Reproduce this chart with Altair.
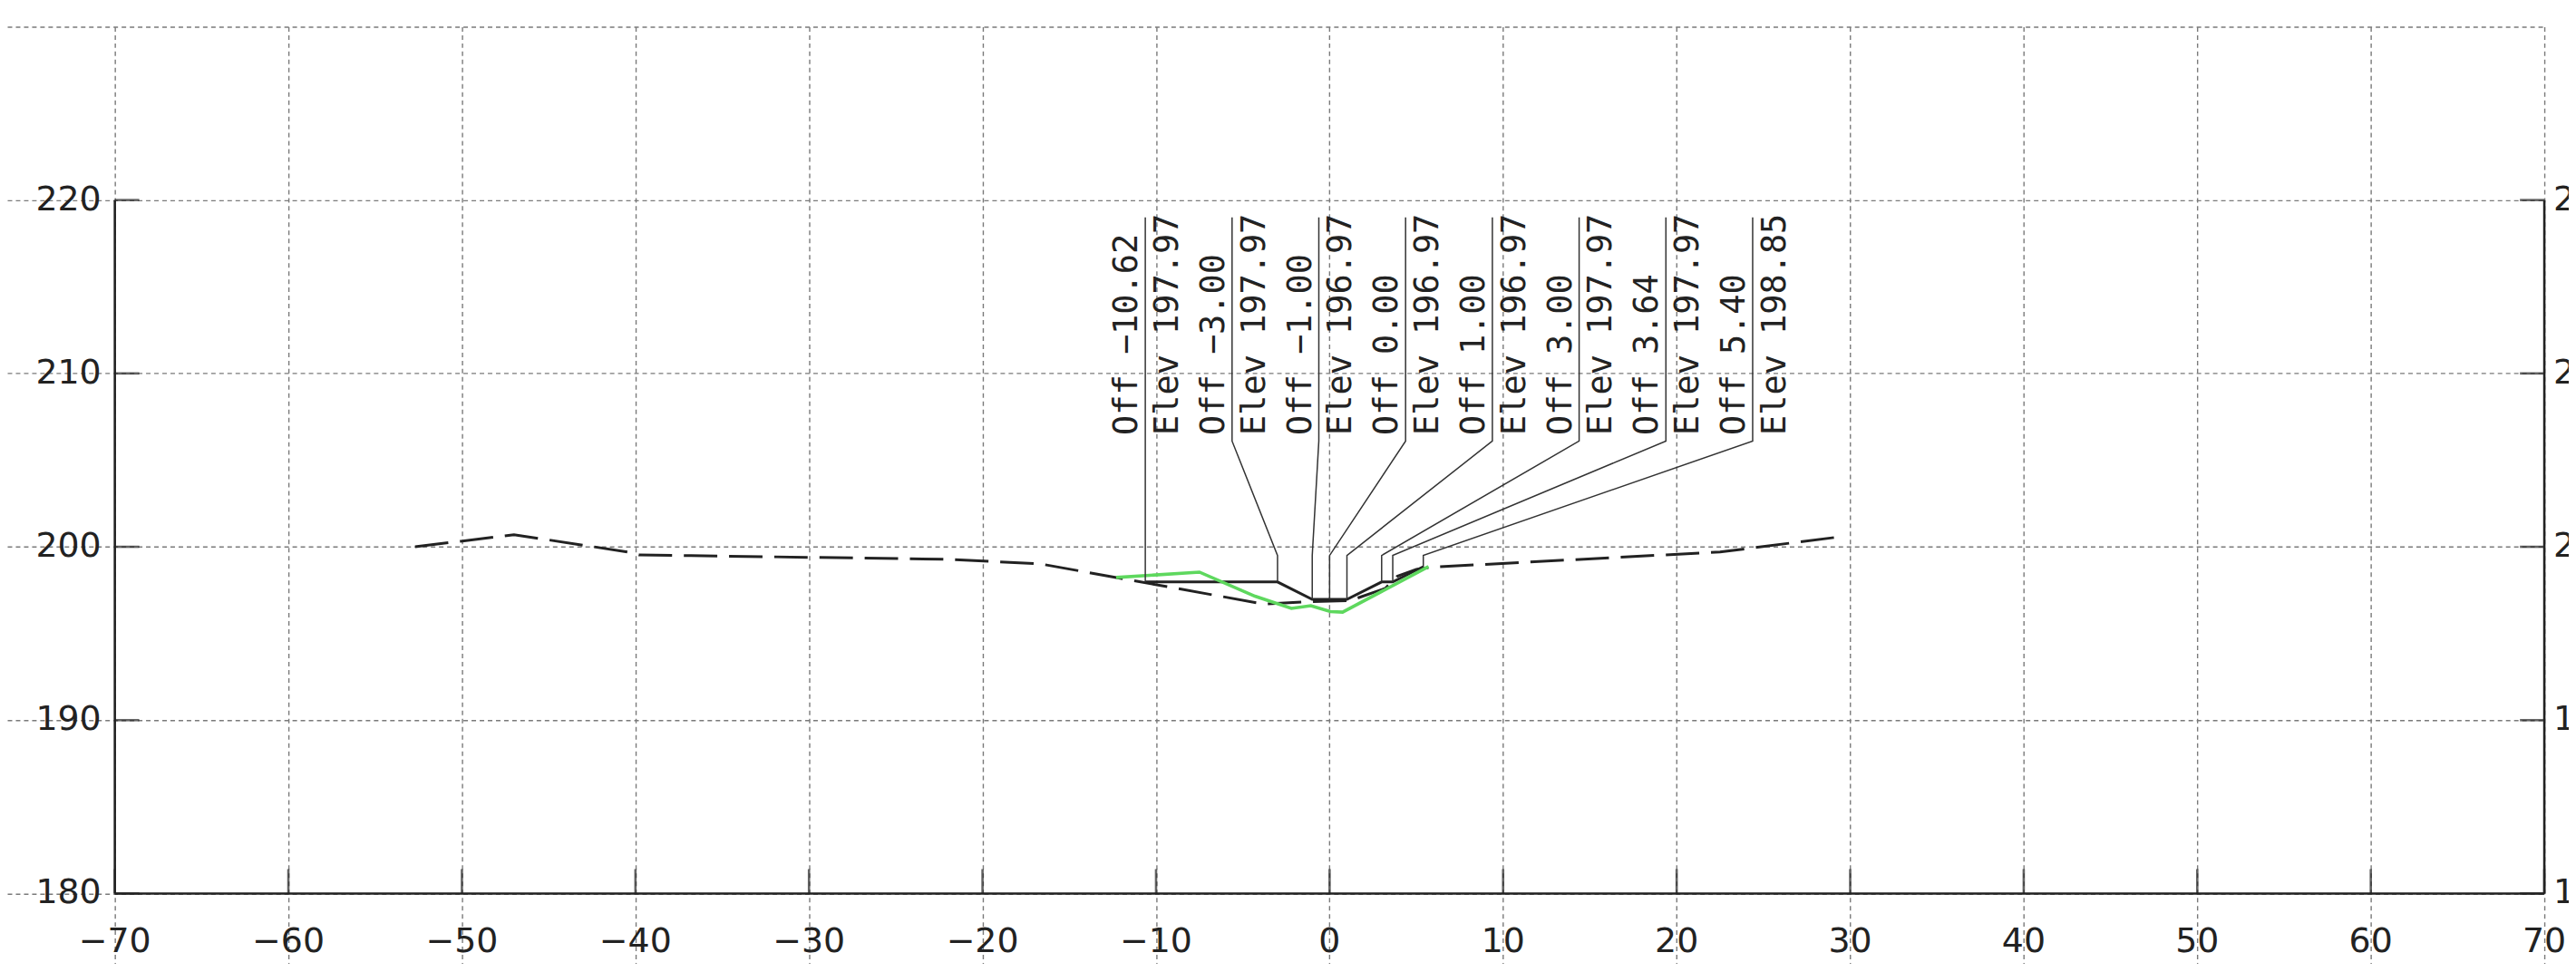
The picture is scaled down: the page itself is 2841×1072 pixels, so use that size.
import altair as alt
import pandas as pd

# ---------------- data ----------------
X_TICKS = [-70, -60, -50, -40, -30, -20, -10, 0, 10, 20, 30, 40, 50, 60, 70]
X_LABELS = ["\u221270", "\u221260", "\u221250", "\u221240", "\u221230", "\u221220", "\u221210",
            "0", "10", "20", "30", "40", "50", "60", "70"]
Y_GRID = [180, 190, 200, 210, 220, 230]
Y_TICKS = [180, 190, 200, 210, 220]
Y_LABELS = ["180", "190", "200", "210", "220"]

# existing ground (dashed)
EG_OFF = [-52.7, -47.0, -40.3, -39.8, -22.0, -16.7, -3.8, -1.5, 1.2, 3.2, 3.9, 5.0, 5.8, 22.5, 29.2]
EG_ELEV = [200.0, 200.7, 199.68, 199.53, 199.28, 199.02, 196.7, 196.82, 196.9, 197.6, 198.3, 198.7, 198.82, 199.7, 200.55]

# green profile
GR_OFF = [-12.3, -7.5, -4.3, -2.2, -1.08, 0.05, 0.75, 5.7]
GR_ELEV = [198.23, 198.54, 197.15, 196.45, 196.6, 196.26, 196.23, 198.86]

# design section (solid black) - labelled points
DS_OFF = [-10.62, -3.00, -1.00, 0.00, 1.00, 3.00, 3.64, 5.40]
DS_ELEV = [197.97, 197.97, 196.97, 196.97, 196.97, 197.97, 197.97, 198.85]

# leader label positions (offset of the label column)
LEADER_X = [-10.62, -5.62, -0.62, 4.38, 9.38, 14.38, 19.38, 24.38]
LEADER_TOP = 219.0
LEADER_KNEE = 206.1
LEADER_BEND = 199.5
LABEL_BASE = 206.44

FRAME_X1 = [-70, -70, 70]
FRAME_X2 = [70, -70, 70]
FRAME_Y1 = [180, 180, 180]
FRAME_Y2 = [180, 220, 220]

# ---------------- tables ----------------
def fmt(v):
    return f"{v:.2f}".replace("-", "\u2212")

eg = pd.DataFrame({"x": EG_OFF, "y": EG_ELEV, "i": range(len(EG_OFF))})
gr = pd.DataFrame({"x": GR_OFF, "y": GR_ELEV, "i": range(len(GR_OFF))})
ds = pd.DataFrame({"x": DS_OFF, "y": DS_ELEV, "i": range(len(DS_OFF))})

lead_rows = []
for k, (lx, px, pe) in enumerate(zip(LEADER_X, DS_OFF, DS_ELEV)):
    pts = [(lx, LEADER_TOP), (lx, LEADER_KNEE), (px, LEADER_BEND), (px, pe)]
    for j, (a, b) in enumerate(pts):
        lead_rows.append({"id": k, "i": j, "x": a, "y": b})
leads = pd.DataFrame(lead_rows)

labels = pd.DataFrame({
    "x": LEADER_X,
    "y": [LABEL_BASE] * len(LEADER_X),
    "off": ["Off " + fmt(v) for v in DS_OFF],
    "elev": ["Elev " + fmt(v) for v in DS_ELEV],
})

frame = pd.DataFrame({"x": FRAME_X1, "x2": FRAME_X2, "y": FRAME_Y1, "y2": FRAME_Y2})
xt = pd.DataFrame({"x": X_TICKS, "lab": X_LABELS, "y": [180] * len(X_TICKS)})
yt = pd.DataFrame({"y": Y_TICKS, "lab": Y_LABELS, "xl": [-70] * len(Y_TICKS), "xr": [70] * len(Y_TICKS)})
grid = pd.DataFrame({"x": X_TICKS[:len(Y_GRID)], "y": Y_GRID})

# ---------------- scales / axes ----------------
xs = alt.Scale(domain=[-76.2, 70.0], nice=False, zero=False)
ys = alt.Scale(domain=[175.97, 230.0], nice=False, zero=False)
xax = alt.Axis(values=X_TICKS, grid=True, gridDash=[5, 4], gridColor="#7a7a7a", gridWidth=1.4,
               labels=False, ticks=False, domain=False, title="")
yax = alt.Axis(values=Y_GRID, grid=True, gridDash=[5, 4], gridColor="#7a7a7a", gridWidth=1.4,
               labels=False, ticks=False, domain=False, title="")


def X(field="x"):
    return alt.X(f"{field}:Q", scale=xs, axis=xax)


def Y(field="y"):
    return alt.Y(f"{field}:Q", scale=ys, axis=yax)


INK = "#222222"

grid_layer = alt.Chart(grid).mark_point(opacity=0).encode(x=X(), y=Y())

eg_layer = alt.Chart(eg).mark_line(color=INK, strokeWidth=3, strokeDash=[37, 13]).encode(
    x=X(), y=Y(), order="i:Q")
ds_layer = alt.Chart(ds).mark_line(color=INK, strokeWidth=3).encode(x=X(), y=Y(), order="i:Q")
gr_layer = alt.Chart(gr).mark_line(color="#5ed85e", strokeWidth=3.6).encode(x=X(), y=Y(), order="i:Q")
lead_layer = alt.Chart(leads).mark_line(color="#333333", strokeWidth=1.5).encode(
    x=X(), y=Y(), detail="id:N", order="i:Q")

off_text = alt.Chart(labels).mark_text(
    angle=270, align="left", baseline="alphabetic", dy=-9,
    font="DejaVu Sans Mono", fontSize=37, color=INK).encode(x=X(), y=Y(), text="off:N")
elev_text = alt.Chart(labels).mark_text(
    angle=270, align="left", baseline="alphabetic", dy=36,
    font="DejaVu Sans Mono", fontSize=37, color=INK).encode(x=X(), y=Y(), text="elev:N")

frame_layer = alt.Chart(frame).mark_rule(color=INK, strokeWidth=2.6).encode(
    x=X(), x2="x2:Q", y=Y(), y2="y2:Q")

bt = alt.Chart(xt).mark_tick(orient="vertical", size=27, thickness=2.6, yOffset=-13.5, color=INK).encode(
    x=X(), y=Y())
lt = alt.Chart(yt).mark_tick(orient="horizontal", size=27, thickness=2.6, xOffset=13.5, color=INK).encode(
    x=X("xl"), y=Y())
rt = alt.Chart(yt).mark_tick(orient="horizontal", size=27, thickness=2.6, xOffset=-13.5, color=INK).encode(
    x=X("xr"), y=Y())

xlab = alt.Chart(xt).mark_text(baseline="middle", align="center", dy=54,
                               font="DejaVu Sans", fontSize=38, color=INK).encode(
    x=X(), y=Y(), text="lab:N")
ylab_l = alt.Chart(yt).mark_text(baseline="middle", align="right", dx=-15,
                                 font="DejaVu Sans", fontSize=38, color=INK).encode(
    x=X("xl"), y=Y(), text="lab:N")
ylab_r = alt.Chart(yt).mark_text(baseline="middle", align="left", dx=10,
                                 font="DejaVu Sans", fontSize=38, color=INK).encode(
    x=X("xr"), y=Y(), text="lab:N")

chart = alt.layer(
    grid_layer, eg_layer, ds_layer, gr_layer, lead_layer, off_text, elev_text,
    frame_layer, bt, lt, rt, xlab, ylab_l, ylab_r
).properties(
    width=2806, height=1036,
    autosize=alt.AutoSizeParams(type="none"),
    padding={"left": 0, "top": 20, "right": 27, "bottom": 0},
).configure(background="white", view=alt.ViewConfig(strokeWidth=0))

chart.save("out.html", embed_options={"renderer": "svg", "actions": False})
